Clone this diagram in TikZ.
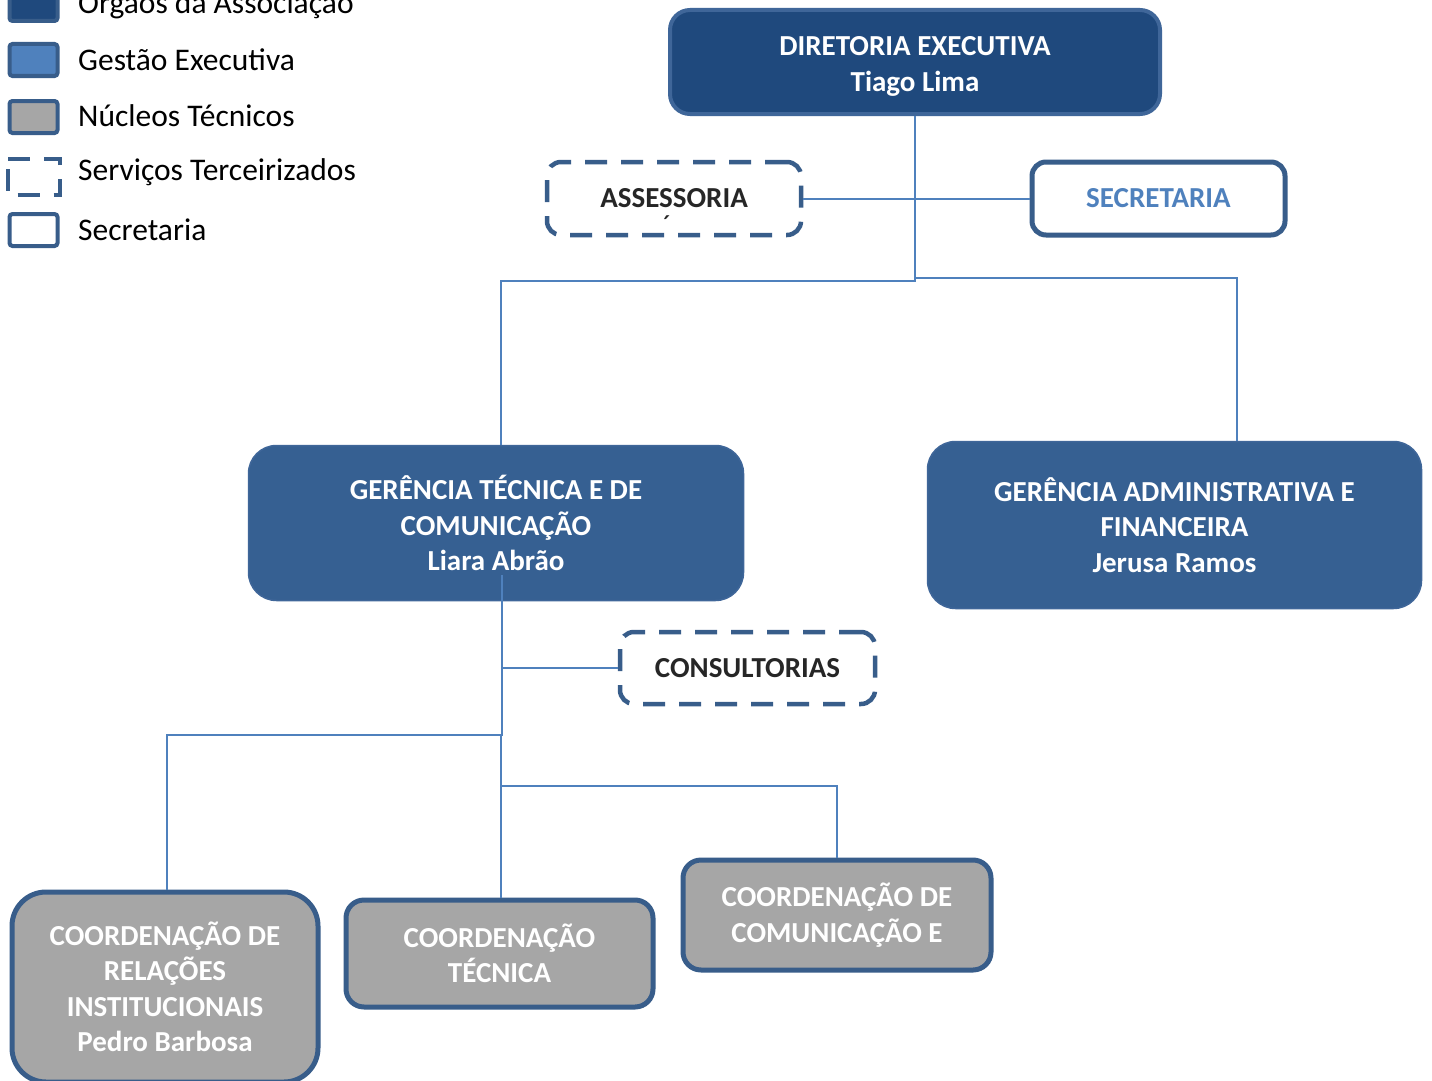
\documentclass[tikz,border=0pt]{standalone}
\usepackage{fontspec}
\setmainfont{Carlito}
\definecolor{dkblue}{HTML}{1F497D}
\definecolor{midblue}{HTML}{366092}
\definecolor{ltblue}{HTML}{4F81BD}
\definecolor{edge}{HTML}{385D8A}
\definecolor{edgelt}{HTML}{3F6699}
\definecolor{gry}{HTML}{A6A6A6}
\definecolor{txtdark}{HTML}{262626}
\tikzset{
  boxtext/.style={align=center, inner sep=0pt, font=\bfseries\fontsize{29}{35.5}\selectfont},
  dirbox/.style={boxtext, fill=dkblue, draw=edgelt, line width=4pt, rounded corners=20pt, text=white},
  gerbox/.style={boxtext, fill=midblue, draw=edgelt, line width=1.5pt, rounded corners=28pt, text=white},
  graybox/.style={boxtext, fill=gry, draw=edge, line width=5pt, rounded corners=26pt, text=white},
  dashbox/.style={boxtext, draw=edge, line width=4.5pt, dash pattern=on 22pt off 14pt, rounded corners=14pt, text=txtdark},
  secbox/.style={boxtext, fill=white, draw=edge, line width=5pt, rounded corners=14pt, text=ltblue},
  conn/.style={draw=ltblue, line width=2pt},
  legsq/.style={minimum width=48pt, minimum height=32pt, draw=edge, line width=4pt, rounded corners=3pt, inner sep=0pt},
  legtxt/.style={anchor=west, inner sep=0pt, font=\fontsize{31.5}{36}\selectfont, text=black}
}
\begin{document}
\begin{tikzpicture}[x=1pt,y=-1pt]
\useasboundingbox (0,0) rectangle (1432,1081);
\clip (0,0) rectangle (1432,1081);
\fill[white] (0,0) rectangle (1432,1081);

% legend
\node[legsq, fill=dkblue] (lg1) at (33.5,5) {};
\node[legsq, fill=ltblue] (lg2) at (33.5,60) {};
\node[legsq, fill=gry] (lg3) at (33.5,117) {};
\node[legsq, draw=none] (lg4) at (33.5,177) {};
\draw[draw=edge, line width=4pt, dash pattern=on 22pt off 14pt, dash phase=-10pt] (lg4.north west) rectangle (lg4.south east);
\node[legsq, fill=white] (lg5) at (33.5,230) {};
\node[legtxt] (lt1) at (78,3) {Órgãos da Associação};
\node[legtxt] (lt2) at (78,60) {Gestão Executiva};
\node[legtxt] (lt3) at (78,116) {Núcleos Técnicos};
\node[legtxt] (lt4) at (78,172) {Serviços Terceirizados};
\node[legtxt] (lt5) at (78,230) {Secretaria};

% boxes
\node[dirbox, minimum width=490pt, minimum height=104pt] (dir) at (915,62) {\\[-8pt]DIRETORIA EXECUTIVA\\Tiago Lima};
\node[dashbox, minimum width=254pt, minimum height=73pt] (ass) at (674,198.5) {ASSESSORIA};
\node[inner sep=0pt, font=\fontsize{29}{29}\selectfont, text=txtdark] (acc) at (667,226) {´};
\node[secbox, minimum width=253pt, minimum height=73pt] (sec) at (1158.5,198.5) {SECRETARIA};
\node[gerbox, minimum width=495pt, minimum height=155pt] (gtc) at (496,523) {GERÊNCIA TÉCNICA E DE\\COMUNICAÇÃO\\Liara Abrão};
\node[gerbox, minimum width=494pt, minimum height=167pt] (gaf) at (1174.5,525) {GERÊNCIA ADMINISTRATIVA E\\FINANCEIRA\\Jerusa Ramos};
\node[dashbox, minimum width=255pt, minimum height=72pt] (con) at (747.5,668) {CONSULTORIAS};
\node[graybox, minimum width=306pt, minimum height=190pt, rounded corners=34pt] (cri) at (165,987) {COORDENAÇÃO DE\\RELAÇÕES\\INSTITUCIONAIS\\Pedro Barbosa};
\node[graybox, minimum width=307pt, minimum height=107pt, rounded corners=18pt] (cte) at (499.5,953.5) {COORDENAÇÃO\\TÉCNICA};
\node[graybox, minimum width=308pt, minimum height=110pt, rounded corners=18pt] (ccm) at (837,915) {COORDENAÇÃO DE\\COMUNICAÇÃO E};

% connector junctions
\coordinate (jA) at (915,281);
\coordinate (jB) at (915,278);
\coordinate (jL) at (501,281);
\coordinate (jR) at (1237,278);
\coordinate (k0) at (502,575);
\coordinate (k1) at (502,735);
\coordinate (kL) at (167,735);
\coordinate (k2) at (501,735);
\coordinate (k3) at (501,786);
\coordinate (kR) at (837,786);

\draw[conn] (dir.south) -- (jA) -- (jL) -- (jL |- gtc.north);
\draw[conn] (jB) -- (jR) -- (jR |- gaf.north);
\draw[conn] (ass.east) -- (sec.west);
\draw[conn] (k0) -- (k1) -- (kL) -- (kL |- cri.north);
\draw[conn] (con.west -| k1) -- (con.west);
\draw[conn] (k2) -- (k2 |- cte.north);
\draw[conn] (k3) -- (kR) -- (ccm.north);
\end{tikzpicture}
\end{document}
